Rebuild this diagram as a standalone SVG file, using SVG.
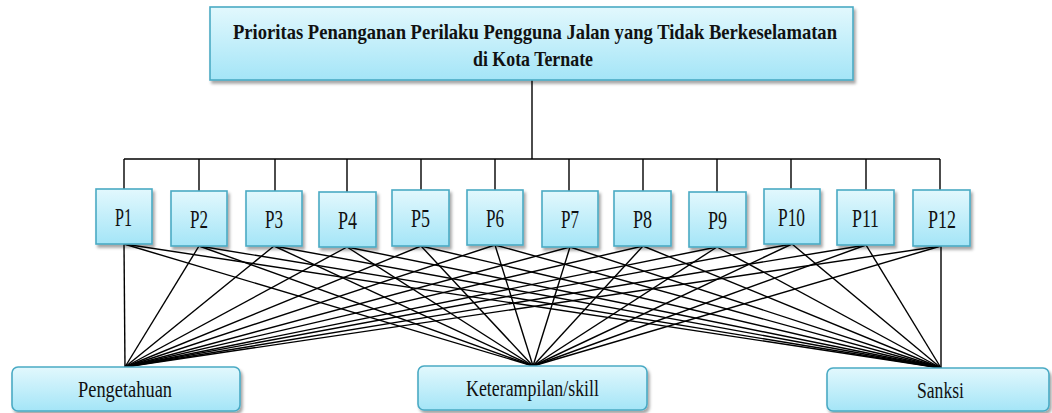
<svg xmlns="http://www.w3.org/2000/svg" width="1052" height="413" viewBox="0 0 1052 413">
<defs>
<linearGradient id="g" x1="0" y1="0" x2="0" y2="1">
<stop offset="0" stop-color="#e2f8fd"/>
<stop offset="1" stop-color="#a4e5f7"/>
</linearGradient>
<filter id="sh" x="-10%" y="-10%" width="130%" height="140%">
<feDropShadow dx="2" dy="3" stdDeviation="1.5" flood-color="#000" flood-opacity="0.35"/>
</filter>
</defs>
<style>
.box{fill:url(#g);stroke:#4aaac4;stroke-width:1.6;filter:url(#sh)}
.t{font-family:"Liberation Serif","Times New Roman",serif;fill:#111;text-anchor:start}
.pt{font-size:25px}
.bt{font-size:24px}
.title{font-size:22px;font-weight:bold}
.c line{stroke:#000;stroke-width:1.4;fill:none}
</style>
<g id="connectors" class="c">
<line x1="532" y1="80" x2="532" y2="159"/>
<line x1="124" y1="159" x2="940" y2="159"/>
<line x1="124" y1="159" x2="124" y2="189"/>
<line x1="199" y1="159" x2="199" y2="191"/>
<line x1="275" y1="159" x2="275" y2="191"/>
<line x1="347" y1="159" x2="347" y2="192"/>
<line x1="421" y1="159" x2="421" y2="190"/>
<line x1="495" y1="159" x2="495" y2="190"/>
<line x1="569" y1="159" x2="569" y2="191"/>
<line x1="643" y1="159" x2="643" y2="191"/>
<line x1="717" y1="159" x2="717" y2="192"/>
<line x1="791" y1="159" x2="791" y2="189"/>
<line x1="866" y1="159" x2="866" y2="190"/>
<line x1="940" y1="159" x2="940" y2="190"/>
<line x1="124" y1="244" x2="125" y2="367"/>
<line x1="199" y1="246" x2="125" y2="367"/>
<line x1="274" y1="246" x2="125" y2="367"/>
<line x1="347" y1="247" x2="125" y2="367"/>
<line x1="421" y1="246" x2="125" y2="367"/>
<line x1="495" y1="245" x2="125" y2="367"/>
<line x1="570" y1="247" x2="125" y2="367"/>
<line x1="643" y1="246" x2="125" y2="367"/>
<line x1="717" y1="247" x2="125" y2="367"/>
<line x1="792" y1="244" x2="125" y2="367"/>
<line x1="866" y1="245" x2="125" y2="367"/>
<line x1="941" y1="246" x2="125" y2="367"/>
<line x1="124" y1="244" x2="533" y2="366"/>
<line x1="199" y1="246" x2="533" y2="366"/>
<line x1="274" y1="246" x2="533" y2="366"/>
<line x1="347" y1="247" x2="533" y2="366"/>
<line x1="421" y1="246" x2="533" y2="366"/>
<line x1="495" y1="245" x2="533" y2="366"/>
<line x1="570" y1="247" x2="533" y2="366"/>
<line x1="643" y1="246" x2="533" y2="366"/>
<line x1="717" y1="247" x2="533" y2="366"/>
<line x1="792" y1="244" x2="533" y2="366"/>
<line x1="866" y1="245" x2="533" y2="366"/>
<line x1="941" y1="246" x2="533" y2="366"/>
<line x1="124" y1="244" x2="941" y2="368"/>
<line x1="199" y1="246" x2="941" y2="368"/>
<line x1="274" y1="246" x2="941" y2="368"/>
<line x1="347" y1="247" x2="941" y2="368"/>
<line x1="421" y1="246" x2="941" y2="368"/>
<line x1="495" y1="245" x2="941" y2="368"/>
<line x1="570" y1="247" x2="941" y2="368"/>
<line x1="643" y1="246" x2="941" y2="368"/>
<line x1="717" y1="247" x2="941" y2="368"/>
<line x1="792" y1="244" x2="941" y2="368"/>
<line x1="866" y1="245" x2="941" y2="368"/>
<line x1="941" y1="246" x2="941" y2="368"/>
</g>
<g id="title">
<rect class="box" x="210" y="7" width="643" height="73"/>
<text class="t title" x="233" y="39" textLength="604" lengthAdjust="spacingAndGlyphs">Prioritas Penanganan Perilaku Pengguna Jalan yang Tidak Berkeselamatan</text>
<text class="t title" x="473" y="66" textLength="120" lengthAdjust="spacingAndGlyphs">di Kota Ternate</text>
</g>
<g id="P1"><rect class="box" x="96" y="189" width="56" height="55"/><text class="t pt" x="115" y="226" textLength="17" lengthAdjust="spacingAndGlyphs">P1</text></g>
<g id="P2"><rect class="box" x="171" y="191" width="56" height="55"/><text class="t pt" x="190" y="228" textLength="18" lengthAdjust="spacingAndGlyphs">P2</text></g>
<g id="P3"><rect class="box" x="246" y="191" width="56" height="55"/><text class="t pt" x="265" y="228" textLength="18" lengthAdjust="spacingAndGlyphs">P3</text></g>
<g id="P4"><rect class="box" x="319" y="192" width="57" height="55"/><text class="t pt" x="338" y="229" textLength="19" lengthAdjust="spacingAndGlyphs">P4</text></g>
<g id="P5"><rect class="box" x="392" y="190" width="57" height="56"/><text class="t pt" x="411" y="227" textLength="19" lengthAdjust="spacingAndGlyphs">P5</text></g>
<g id="P6"><rect class="box" x="467" y="190" width="56" height="55"/><text class="t pt" x="486" y="227" textLength="18" lengthAdjust="spacingAndGlyphs">P6</text></g>
<g id="P7"><rect class="box" x="542" y="191" width="56" height="56"/><text class="t pt" x="561" y="228" textLength="18" lengthAdjust="spacingAndGlyphs">P7</text></g>
<g id="P8"><rect class="box" x="614" y="191" width="57" height="55"/><text class="t pt" x="633" y="228" textLength="19" lengthAdjust="spacingAndGlyphs">P8</text></g>
<g id="P9"><rect class="box" x="689" y="192" width="57" height="55"/><text class="t pt" x="708" y="229" textLength="19" lengthAdjust="spacingAndGlyphs">P9</text></g>
<g id="P10"><rect class="box" x="764" y="189" width="56" height="55"/><text class="t pt" x="778" y="226" textLength="27" lengthAdjust="spacingAndGlyphs">P10</text></g>
<g id="P11"><rect class="box" x="837" y="190" width="57" height="55"/><text class="t pt" x="852" y="227" textLength="27" lengthAdjust="spacingAndGlyphs">P11</text></g>
<g id="P12"><rect class="box" x="913" y="190" width="57" height="56"/><text class="t pt" x="928" y="228" textLength="28" lengthAdjust="spacingAndGlyphs">P12</text></g>
<g id="Pengetahuan"><rect class="box" x="12" y="367" width="228" height="44" rx="6"/><text class="t bt" x="78" y="397" textLength="94" lengthAdjust="spacingAndGlyphs">Pengetahuan</text></g>
<g id="Keterampilan"><rect class="box" x="418" y="366" width="229" height="44" rx="6"/><text class="t bt" x="466" y="396" textLength="133" lengthAdjust="spacingAndGlyphs">Keterampilan/skill</text></g>
<g id="Sanksi"><rect class="box" x="827" y="368" width="222" height="43" rx="6"/><text class="t bt" x="917" y="398" textLength="47" lengthAdjust="spacingAndGlyphs">Sanksi</text></g>
</svg>
